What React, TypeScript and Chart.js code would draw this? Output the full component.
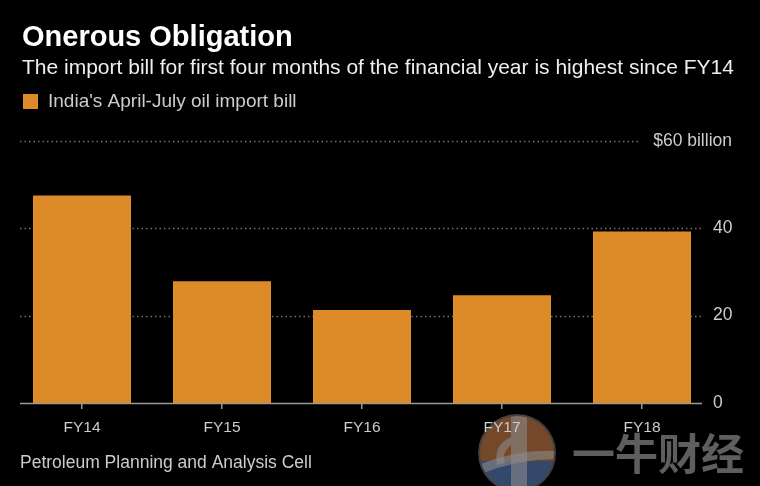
import React, { useEffect, useRef } from 'react';
import { Chart, registerables } from 'chart.js';

Chart.register(...registerables);

const categories = ['FY14', 'FY15', 'FY16', 'FY17', 'FY18'];
const importBill = [47.5, 27.9, 21.3, 24.7, 39.3];
const yTickValues = [0, 20, 40, 60];
const topTickLabel = '$60 billion';
const titleText = 'Onerous Obligation';
const subtitleText = 'The import bill for first four months of the financial year is highest since FY14';
const legendLabel = "India's April-July oil import bill";
const sourceText = 'Petroleum Planning and Analysis Cell';
const watermarkText = '一牛财经';

const FONT = "'Liberation Sans', Arial, sans-serif";
const BAR_COLOR = '#DD8A28';

const decorPlugin = {
  id: 'decor',
  beforeDraw(chart: any) {
    const ctx = chart.ctx;
    // watermark logo (under the axis labels)
    const cx = 517;
    const cy = 453;
    const r = 39;
    ctx.save();
    ctx.globalAlpha = 0.6;
    ctx.beginPath();
    ctx.arc(cx, cy, r, 0, Math.PI * 2);
    ctx.fillStyle = '#6a6a6a';
    ctx.fill();
    ctx.beginPath();
    ctx.arc(cx, cy, r - 2, 0, Math.PI * 2);
    ctx.clip();
    ctx.fillStyle = '#9a4e1c';
    ctx.fillRect(cx - r, cy - r, 2 * r, r + 8);
    ctx.fillStyle = '#2b4f88';
    ctx.fillRect(cx - r, cy + 8, 2 * r, r);
    ctx.fillStyle = '#8a8a8a';
    ctx.fillRect(cx - 6, cy - r, 16, 2 * r);
    ctx.beginPath();
    ctx.moveTo(cx - r, cy + 12);
    ctx.quadraticCurveTo(cx, cy - 4, cx + r, cy - 2);
    ctx.lineTo(cx + r, cy + 6);
    ctx.quadraticCurveTo(cx, cy + 6, cx - r, cy + 22);
    ctx.closePath();
    ctx.fill();
    ctx.beginPath();
    ctx.moveTo(cx - 20, cy + 12);
    ctx.quadraticCurveTo(cx - 24, cy - 8, cx - 6, cy - 16);
    ctx.lineTo(cx - 6, cy - 8);
    ctx.quadraticCurveTo(cx - 16, cy, cx - 12, cy + 10);
    ctx.closePath();
    ctx.fill();
    ctx.restore();
  },
  beforeDatasetsDraw(chart: any) {
    const ctx = chart.ctx;
    const y = chart.scales.y;
    const area = chart.chartArea;
    const x0 = area.left + 8;
    const x1 = area.right - 10;
    ctx.save();
    for (const v of yTickValues) {
      const py = Math.round(y.getPixelForValue(v)) + 0.5;
      if (v === 0) {
        ctx.strokeStyle = '#9a9a9a';
        ctx.lineWidth = 1.5;
        ctx.setLineDash([]);
        ctx.beginPath();
        ctx.moveTo(x0, py);
        ctx.lineTo(x1, py);
        ctx.stroke();
      } else {
        ctx.strokeStyle = '#707070';
        ctx.lineWidth = 1.5;
        ctx.setLineDash([1.5, 3]);
        ctx.beginPath();
        ctx.moveTo(x0, py);
        const end = v === 60 ? 638 : x1;
        ctx.lineTo(end, py);
        ctx.stroke();
      }
    }
    ctx.restore();
  },
  afterDraw(chart: any) {
    const ctx = chart.ctx;
    const y = chart.scales.y;
    ctx.save();
    ctx.textBaseline = 'alphabetic';
    ctx.textAlign = 'left';
    // title
    ctx.fillStyle = '#ffffff';
    ctx.font = `bold 29px ${FONT}`;
    ctx.fillText(titleText, 22, 46);
    // subtitle
    ctx.fillStyle = '#eeeeee';
    ctx.font = `21px ${FONT}`;
    ctx.fillText(subtitleText, 22, 74);
    // legend
    ctx.fillStyle = BAR_COLOR;
    ctx.fillRect(23, 94, 15, 15);
    ctx.fillStyle = '#cccccc';
    ctx.font = `19px ${FONT}`;
    ctx.fillText(legendLabel, 48, 107);
    // top tick label
    ctx.font = `17.5px ${FONT}`;
    ctx.textAlign = 'right';
    ctx.textBaseline = 'middle';
    ctx.fillText(topTickLabel, 732, y.getPixelForValue(60));
    // source
    ctx.textAlign = 'left';
    ctx.textBaseline = 'alphabetic';
    ctx.fillStyle = '#cccccc';
    ctx.font = `17.5px ${FONT}`;
    ctx.fillText(sourceText, 20, 468);
    // watermark text
    ctx.fillStyle = 'rgba(110,110,110,0.85)';
    ctx.font = `bold 43px 'Noto Sans CJK SC', sans-serif`;
    ctx.fillText(watermarkText, 572, 470);
    ctx.restore();
  },
};

export default function App() {
  const ref = useRef<HTMLCanvasElement | null>(null);
  useEffect(() => {
    document.body.style.margin = '0';
    document.body.style.background = '#000';
    const canvas = ref.current;
    if (!canvas) return;
    const chart = new Chart(canvas, {
      type: 'bar',
      data: {
        labels: categories,
        datasets: [
          {
            label: legendLabel,
            data: importBill,
            backgroundColor: BAR_COLOR,
            borderWidth: 0,
            barPercentage: 0.7,
            categoryPercentage: 1.0,
          },
        ],
      },
      options: {
        animation: false,
        responsive: false,
        maintainAspectRatio: false,
        devicePixelRatio: 1,
        layout: { padding: { left: 12, top: 141, right: 0, bottom: 0 } },
        plugins: {
          legend: { display: false },
          title: { display: false },
          tooltip: { enabled: false },
        },
        scales: {
          x: {
            type: 'category',
            offset: true,
            grid: {
              display: true,
              drawOnChartArea: false,
              drawTicks: true,
              tickLength: 6,
              color: '#9a9a9a',
              lineWidth: 1.5,
              offset: false,
            },
            border: { display: false },
            ticks: {
              color: '#cccccc',
              font: { family: FONT, size: 15.5 },
              padding: 9,
              maxRotation: 0,
            },
            afterFit: (scale: any) => {
              scale.height = 83;
            },
          },
          y: {
            position: 'right',
            min: 0,
            max: 60,
            grid: { display: false, drawTicks: false },
            border: { display: false },
            ticks: {
              stepSize: 20,
              color: '#cccccc',
              font: { family: FONT, size: 17.5 },
              padding: 1,
              callback: (v: any) => (Number(v) === 60 ? '' : String(v)),
            },
            afterFit: (scale: any) => {
              scale.width = 48;
            },
          },
        },
      },
      plugins: [decorPlugin],
    });
    return () => chart.destroy();
  }, []);
  return (
    <div style={{ position: 'absolute', left: 0, top: 0, width: 760, height: 486, background: '#000' }}>
      <canvas ref={ref} width={760} height={486} style={{ width: 760, height: 486, display: 'block' }} />
    </div>
  );
}
